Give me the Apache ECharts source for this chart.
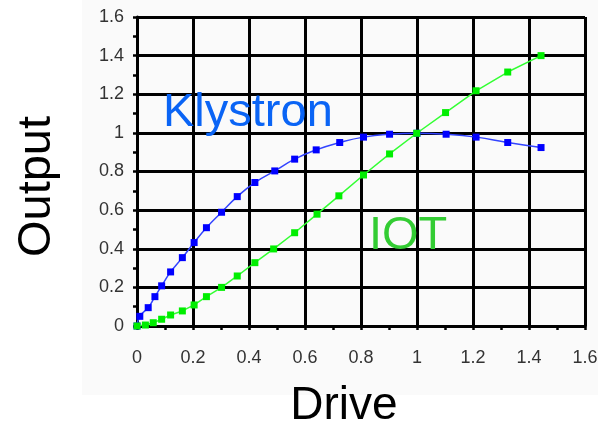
<!DOCTYPE html>
<html>
<head>
<meta charset="utf-8">
<script src="https://cdn.jsdelivr.net/npm/echarts@6/dist/echarts.min.js"></script>
<style>
  html, body { margin: 0; padding: 0; background: #fff; }
  #chart { width: 598px; height: 423px; }
</style>
</head>
<body>
<div id="chart"></div>
<script>
// values
const klystronDrive  = [0, 0.01, 0.04, 0.064, 0.088, 0.12, 0.162, 0.204, 0.248, 0.302, 0.358, 0.421, 0.492, 0.563, 0.64, 0.724, 0.809, 0.902, 1.0, 1.104, 1.211, 1.324, 1.443];
const klystronOutput = [0, 0.05, 0.095, 0.152, 0.208, 0.28, 0.354, 0.432, 0.509, 0.589, 0.67, 0.743, 0.803, 0.864, 0.912, 0.95, 0.978, 0.993, 0.998, 0.993, 0.978, 0.95, 0.924];
const iotDrive  = [0, 0.03, 0.058, 0.088, 0.12, 0.162, 0.204, 0.248, 0.302, 0.358, 0.421, 0.488, 0.563, 0.643, 0.721, 0.809, 0.902, 0.999, 1.102, 1.211, 1.324, 1.443];
const iotOutput = [0, 0.005, 0.017, 0.035, 0.057, 0.078, 0.109, 0.152, 0.2, 0.259, 0.328, 0.399, 0.483, 0.579, 0.674, 0.782, 0.891, 0.998, 1.105, 1.218, 1.315, 1.4];
const tickLabels = ['0', '0.2', '0.4', '0.6', '0.8', '1', '1.2', '1.4', '1.6'];

const pairs = (xs, ys) => xs.map((x, i) => [x, ys[i]]);
const fmt = v => tickLabels[Math.round(v / 0.2)] || '';

const axisCommon = {
    type: 'value',
    min: 0,
    max: 1.6,
    interval: 0.2,
    axisLine: { show: true, lineStyle: { color: '#000', width: 3 } },
    axisTick: { show: true, length: 4, inside: false, lineStyle: { color: '#000', width: 2.5 } },
    minorTick: { show: true, splitNumber: 2, length: 4, lineStyle: { color: '#000', width: 2.5 } },
    splitLine: { show: true, lineStyle: { color: '#000', width: 3 } },
    axisLabel: { formatter: fmt, color: '#333', fontSize: 18, fontFamily: 'Liberation Sans' }
};

const chart = echarts.init(document.getElementById('chart'));
chart.setOption({
    animation: false,
    backgroundColor: '#fff',
    grid: { left: 137, right: 13, top: 17, bottom: 97, containLabel: false, outerBoundsMode: 'none' },
    graphic: [
        { type: 'rect', z: -10, shape: { x: 82, y: 0, width: 516, height: 395 }, style: { fill: '#fafafa' }, silent: true },
        { type: 'text', left: 163, top: 90, z: 100,
          style: { text: 'Klystron', fill: '#0a64f5', font: '47px "Liberation Sans"' } },
        { type: 'text', left: 369, top: 213, z: 100,
          style: { text: 'IOT', fill: '#33cc33', font: '47px "Liberation Sans"' } }
    ],
    xAxis: Object.assign({}, axisCommon, {
        axisLabel: Object.assign({}, axisCommon.axisLabel, { margin: 23 }),
        name: 'Drive',
        nameLocation: 'middle',
        nameGap: 57,
        nameTextStyle: { color: '#000', fontSize: 46, fontFamily: 'Liberation Sans', padding: [0, 34, 0, 0] }
    }),
    yAxis: Object.assign({}, axisCommon, {
        axisLabel: Object.assign({}, axisCommon.axisLabel, { margin: 13 }),
        name: 'Output',
        nameLocation: 'middle',
        nameGap: 76,
        nameTextStyle: { color: '#000', fontSize: 47, fontFamily: 'Liberation Sans', padding: [0, 30, 0, 0] }
    }),
    series: [
        {
            name: 'Klystron',
            type: 'line',
            data: pairs(klystronDrive, klystronOutput),
            symbol: 'rect',
            symbolSize: 7,
            smooth: true,
            lineStyle: { color: '#3344ff', width: 1.5 },
            itemStyle: { color: '#0000ff' },
            z: 3
        },
        {
            name: 'IOT',
            type: 'line',
            data: pairs(iotDrive, iotOutput),
            symbol: 'rect',
            symbolSize: 7,
            lineStyle: { color: '#33ff33', width: 1.5 },
            itemStyle: { color: '#00ee00' },
            z: 4
        }
    ]
});
</script>
</body>
</html>
